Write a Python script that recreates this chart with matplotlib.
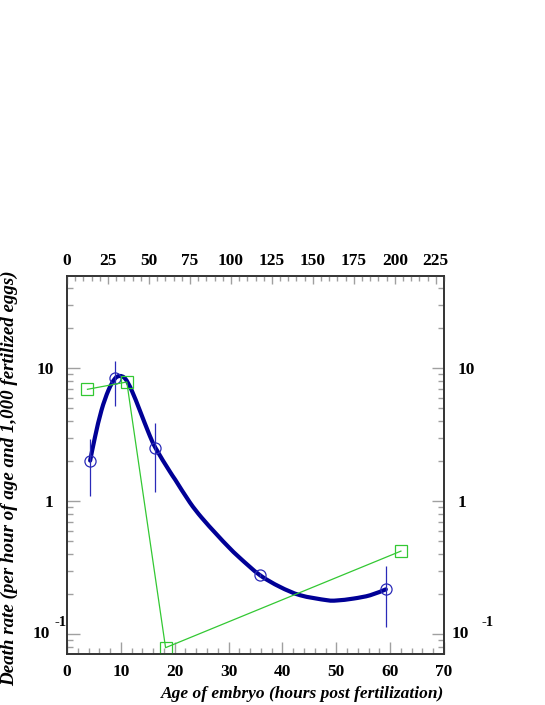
import matplotlib
matplotlib.use("Agg")
import numpy as np
import matplotlib.pyplot as plt
from matplotlib.ticker import FixedLocator, MultipleLocator, LogLocator, NullFormatter, FixedFormatter
from matplotlib import transforms
from matplotlib.path import Path
from matplotlib.patches import PathPatch

# ---- data ----
curve_x = [4.3, 5.2, 6.4, 7.7, 8.9, 9.8, 10.8, 12.0, 13.6, 15.1, 16.4, 19.1, 20.1,
           22.8, 25.0, 27.8, 30.0, 32.1, 35.8, 39.5, 43.3, 48.2, 50.1, 53.2, 56.3, 59.2]
curve_y = [2.02, 3.04, 4.83, 6.84, 8.36, 8.75, 8.36, 6.84, 4.73, 3.31, 2.53, 1.67, 1.45,
           0.98, 0.752, 0.562, 0.452, 0.374, 0.278, 0.227, 0.196, 0.180, 0.179, 0.185, 0.196, 0.217]

obs_x = [4.3, 9.0, 16.4, 35.8, 59.3]
obs_y = [2.02, 8.45, 2.53, 0.28, 0.219]
obs_lo = [1.09, 5.18, 1.17, 0.27, 0.1135]
obs_hi = [2.96, 11.35, 3.88, 0.29, 0.325]

sq_x = [3.8, 11.1, 18.3, 62.0]
sq_y = [6.95, 7.89, 0.079, 0.421]

ytick_vals = [0.1, 1, 10]
ytick_labels = ["", "1", "10"]
top_ticks = [0, 25, 50, 75, 100, 125, 150, 175, 200, 225]

W, H = 545, 705
plt.rcParams['font.family'] = ['Liberation Serif', 'DejaVu Serif']
plt.rcParams['font.weight'] = 'bold'

fig = plt.figure(figsize=(W / 100, H / 100), dpi=100)
ax = fig.add_axes([67 / W, 1 - 654 / H, (444 - 67) / W, (654 - 276) / H])

ax.set_yscale('log')
ax.set_xlim(0, 70)
ax.set_ylim(0.0708, 49.5)

navy = '#000096'
blue = '#2a2ab8'
green = '#33c833'

# smooth curve through the read points (Catmull-Rom -> cubic Bezier in x / log10(y) space)
px = np.array(curve_x, float)
py = np.log10(np.array(curve_y, float))
n = len(px)
verts = [(px[0], 10 ** py[0])]
codes = [Path.MOVETO]
for i in range(n - 1):
    x0, y0 = (px[i - 1], py[i - 1]) if i > 0 else (px[i], py[i])
    x1, y1 = px[i], py[i]
    x2, y2 = px[i + 1], py[i + 1]
    x3, y3 = (px[i + 2], py[i + 2]) if i + 2 < n else (px[i + 1], py[i + 1])
    c1 = (x1 + (x2 - x0) / 6.0, y1 + (y2 - y0) / 6.0)
    c2 = (x2 - (x3 - x1) / 6.0, y2 - (y3 - y1) / 6.0)
    verts += [(c1[0], 10 ** c1[1]), (c2[0], 10 ** c2[1]), (x2, 10 ** y2)]
    codes += [Path.CURVE4] * 3
ax.add_patch(PathPatch(Path(verts, codes), facecolor='none', edgecolor=navy, lw=3.0,
                       capstyle='round', zorder=3))

yerr = [[y - lo for y, lo in zip(obs_y, obs_lo)], [hi - y for y, hi in zip(obs_y, obs_hi)]]
ax.errorbar(obs_x, obs_y, yerr=yerr, fmt='none', ecolor=blue, elinewidth=0.9, capsize=0, zorder=4)
ax.plot(obs_x, obs_y, ls='none', marker='o', ms=8, mfc='none', mec=blue, mew=0.9, zorder=5)

ax.plot(sq_x, sq_y, color=green, lw=0.9, marker='s', ms=8, mfc='none', mec=green, mew=0.9, zorder=6)

# axes styling
for sp in ax.spines.values():
    sp.set_color('#333333')
    sp.set_linewidth(1.2)

tick_col = '#a0a0a0'
ax.xaxis.set_major_locator(MultipleLocator(10))
ax.xaxis.set_minor_locator(MultipleLocator(2))
ax.yaxis.set_major_locator(FixedLocator(ytick_vals))
ax.yaxis.set_major_formatter(FixedFormatter(ytick_labels))
ax.yaxis.set_minor_locator(LogLocator(base=10, subs=range(2, 10)))
ax.yaxis.set_minor_formatter(NullFormatter())

lab_fs = 12.5
ax.tick_params(axis='x', which='major', direction='in', length=8.5, width=1.0, color=tick_col,
               labelsize=lab_fs, pad=7.5, top=False)
ax.tick_params(axis='x', which='minor', direction='in', length=4, width=1.0, color=tick_col, top=False)
ax.tick_params(axis='y', which='major', direction='in', length=9, width=1.0, color=tick_col,
               labelsize=lab_fs, pad=9.5, left=True, right=True, labelleft=True, labelright=True)
ax.tick_params(axis='y', which='minor', direction='in', length=4.5, width=1.0, color=tick_col,
               left=True, right=True)

# top axis
axt = ax.twiny()
axt.set_xlim(0, 230)
axt.xaxis.set_major_locator(FixedLocator(top_ticks))
axt.xaxis.set_minor_locator(MultipleLocator(5))
axt.tick_params(axis='x', which='major', direction='in', length=6, width=1.0, color=tick_col,
                labelsize=lab_fs, pad=5)
axt.tick_params(axis='x', which='minor', direction='in', length=3.5, width=1.0, color=tick_col)
for sp in axt.spines.values():
    sp.set_color('#333333')
    sp.set_linewidth(1.2)

# 10^-1 labels, ROOT style
tr = ax.get_yaxis_transform()
def off(dx, dy):
    return transforms.offset_copy(tr, fig=fig, x=dx, y=dy, units='dots')
ax.text(0, 0.1, "10", fontsize=lab_fs, fontweight='bold', ha='right', va='center', transform=off(-17, 0))
ax.text(1, 0.1, "10", fontsize=lab_fs, fontweight='bold', ha='left', va='center', transform=off(8, 0))
ax.text(0, 0.1, "-1", fontsize=10.5, fontweight='bold', ha='center', va='center', transform=off(-6, 12))
ax.text(1, 0.1, "-1", fontsize=10.5, fontweight='bold', ha='center', va='center', transform=off(44, 12))

# axis titles
fig.text(444 / W, 1 - 694 / H, "Age of embryo (hours post fertilization)", fontsize=12.5,
         fontweight='bold', fontstyle='italic', ha='right', va='center')
fig.text(9 / W, 1 - 270 / H, "Death rate (per hour of age and 1,000 fertilized eggs)", fontsize=13.7,
         fontweight='bold', fontstyle='italic', ha='center', va='top', rotation=90)

fig.savefig("out.png", dpi=100)
